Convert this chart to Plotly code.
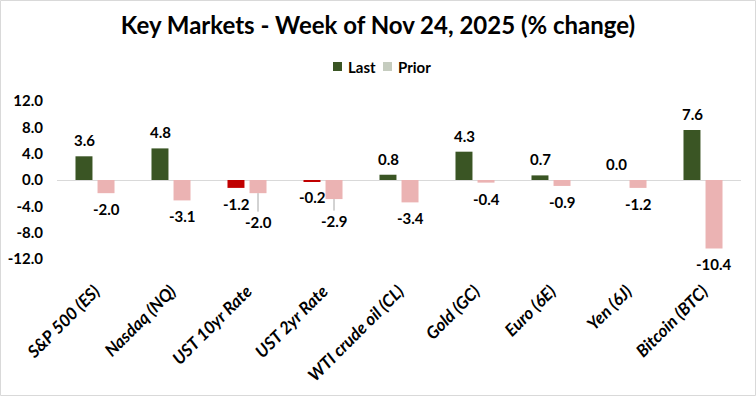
import plotly.graph_objects as go

categories = ["S&P 500 (ES)", "Nasdaq (NQ)", "UST 10yr Rate", "UST 2yr Rate",
              "WTI crude oil (CL)", "Gold (GC)", "Euro (6E)", "Yen (6J)", "Bitcoin (BTC)"]
last_vals = [3.6, 4.8, -1.2, -0.2, 0.8, 4.3, 0.7, 0.0, 7.6]
prior_vals = [-2.0, -3.1, -2.0, -2.9, -3.4, -0.4, -0.9, -1.2, -10.4]
y_ticks = [12, 8, 4, 0, -4, -8, -12]
series_names = ["Last", "Prior"]
leader_labels = {"UST 10yr Rate": 29, "UST 2yr Rate": 22}  # prior labels with leader lines

GREEN = "#3A5524"
RED = "#C00000"
PINK = "#EBB3B3"
PRIOR_LEGEND = "#C5CCBF"
FONT = "Lato"

# plot area in pixels (for converting layout positions to paper coords)
L, R, T, B = 57, 741, 101, 259
def px(x):
    return (x - L) / (R - L)
def py(y):
    return (B - y) / (B - T)

last_colors = [GREEN if v >= 0 else RED for v in last_vals]

fig = go.Figure()
fig.add_trace(go.Bar(x=categories, y=last_vals, marker=dict(color=last_colors, line=dict(width=0)),
                     showlegend=False, name=series_names[0]))
fig.add_trace(go.Bar(x=categories, y=prior_vals, marker=dict(color=PINK, line=dict(width=0)),
                     showlegend=False, name=series_names[1]))

lab_font = dict(family=FONT, size=15, color="black", weight="bold")
ann = []
for c, v in zip(categories, last_vals):
    ann.append(dict(x=c, y=v, xref="x", yref="y", text=f"{v:.1f}", showarrow=False,
                    xshift=-11, yshift=16 if v >= 0 else -16, font=lab_font))
for c, v in zip(categories, prior_vals):
    if c in leader_labels:
        ann.append(dict(x=c, y=v, xref="x", yref="y", text=f"{v:.1f}", showarrow=True,
                        arrowhead=0, arrowwidth=1, arrowcolor="#A6A6A6", standoff=0,
                        ax=0, ay=leader_labels[c], xshift=11, font=lab_font))
    else:
        ann.append(dict(x=c, y=v, xref="x", yref="y", text=f"{v:.1f}", showarrow=False,
                        xshift=11, yshift=16 if v >= 0 else -16, font=lab_font))

# manual legend (swatches + text)
leg_font = dict(family=FONT, size=15, color="black", weight="bold")
ann.append(dict(x=px(346), y=py(66.5), xref="paper", yref="paper", text=series_names[0],
                showarrow=False, xanchor="left", yanchor="middle", font=leg_font))
ann.append(dict(x=px(396), y=py(66.5), xref="paper", yref="paper", text=series_names[1],
                showarrow=False, xanchor="left", yanchor="middle", font=leg_font))
shapes = [
    dict(type="rect", xref="paper", yref="paper", x0=px(333), x1=px(342), y0=py(71), y1=py(62),
         fillcolor=GREEN, line=dict(width=0)),
    dict(type="rect", xref="paper", yref="paper", x0=px(383), x1=px(392), y0=py(71), y1=py(62),
         fillcolor=PRIOR_LEGEND, line=dict(width=0)),
    dict(type="rect", xref="paper", yref="paper", x0=px(0.5), x1=px(755.5), y0=py(395.5), y1=py(0.5),
         line=dict(color="#D9D9D9", width=1)),
]

fig.update_layout(
    width=756, height=396,
    margin=dict(l=L, r=756 - R, t=T, b=396 - B, autoexpand=False),
    paper_bgcolor="white", plot_bgcolor="white",
    barmode="group", bargap=0.42, bargroupgap=0.23,
    showlegend=False,
    title=dict(text="Key Markets - Week of Nov 24, 2025 (% change)", x=0.5, xanchor="center",
               y=1 - 26 / 396, yanchor="middle",
               font=dict(family=FONT, size=24, color="black", weight="bold")),
    annotations=ann,
    shapes=shapes,
)
fig.update_xaxes(showgrid=False, showline=False, ticks="", tickangle=-45, automargin=False,
                 ticklabelstandoff=18,
                 tickfont=dict(family=FONT, size=17, color="black", weight="bold", style="italic"))
fig.update_yaxes(range=[-12, 12], tickvals=y_ticks, ticktext=[f"{t:.1f}" for t in y_ticks],
                 showgrid=False, showline=False, zeroline=True, zerolinecolor="#D9D9D9",
                 zerolinewidth=1, ticklabelstandoff=13, automargin=False,
                 tickfont=dict(family=FONT, size=15, color="black", weight="bold"))

fig.write_html("out.html", post_script="document.body.style.margin='0';",
               config={"displayModeBar": False})
